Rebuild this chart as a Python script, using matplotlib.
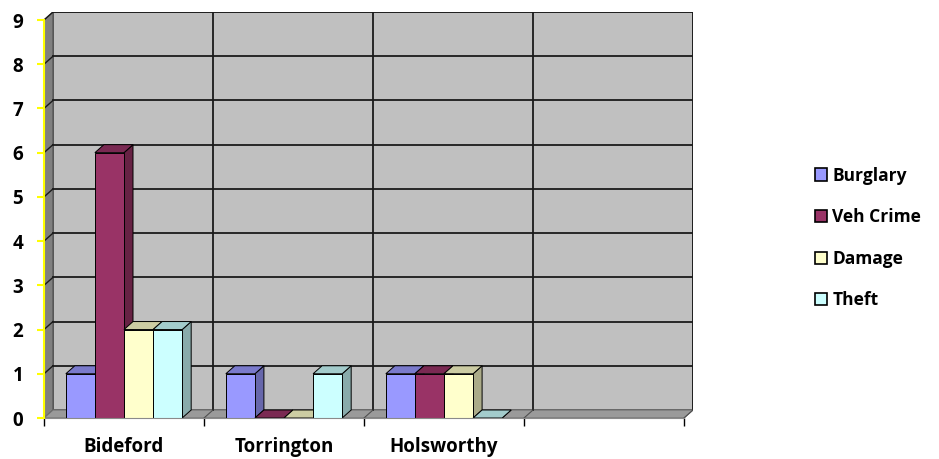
import numpy as np
import matplotlib.pyplot as plt
from matplotlib.patches import Polygon, Rectangle, Patch
from matplotlib.colors import to_rgb

# data
categories = ["Bideford", "Torrington", "Holsworthy", ""]
series = ["Burglary", "Veh Crime", "Damage", "Theft"]
burglary = [1, 1, 1, np.nan]
veh_crime = [6, 0, 1, np.nan]
damage = [2, 0, 1, np.nan]
theft = [2, 1, 0, np.nan]
values = [burglary, veh_crime, damage, theft]
colors = ["#9999FF", "#993366", "#FFFFCC", "#CCFFFF"]

plt.rcParams['font.family'] = ['Open Sans', 'DejaVu Sans']

W, H = 939, 459
fig = plt.figure(figsize=(W / 100, H / 100), dpi=100)

# depth offset of the 3d look, in data units
dx = 9 / 160
dy = 8 / 44.2
n_cat = len(categories)
ymax = 9

ax = fig.add_axes([44 / W, 41 / H, 649 / W, 406 / H])
ax.set_xlim(0, n_cat + dx)
ax.set_ylim(0, ymax + dy)

# walls and floor
ax.add_patch(Rectangle((dx, dy), n_cat, ymax, facecolor="#C0C0C0",
                       edgecolor="#505050", lw=1.2, zorder=0))
ax.add_patch(Polygon([(0, 0), (dx, dy), (dx, ymax + dy), (0, ymax)],
                     closed=True, facecolor="#808080", edgecolor="#505050",
                     lw=0.8, zorder=0))
ax.add_patch(Polygon([(0, 0), (n_cat, 0), (n_cat + dx, dy), (dx, dy)],
                     closed=True, facecolor="#9A9A9A", edgecolor="#707070",
                     lw=0.8, zorder=0))

# gridlines
for k in range(1, ymax + 1):
    ax.plot([dx, n_cat + dx], [k + dy, k + dy], color="#1a1a1a", lw=1.3, zorder=1)
    ax.plot([0, dx], [k, k + dy], color="#1a1a1a", lw=1.0, zorder=1)
for i in range(1, n_cat + 1):
    ax.plot([i + dx, i + dx], [dy, ymax + dy], color="#1a1a1a", lw=1.3, zorder=1)
    ax.plot([i, i + dx], [0, dy], color="#505050", lw=0.8, zorder=1)


def shade(c, f):
    r, g, b = to_rgb(c)
    return (r * f, g * f, b * f)


# bars
w = 1 / (len(series) + 1.5)
for i in range(n_cat):
    for j in range(len(series)):
        v = values[j][i]
        if np.isnan(v):
            continue
        x0 = i + 0.75 * w + j * w
        c = colors[j]
        z = 2 + j * 0.1
        ax.add_patch(Polygon([(x0 + w, 0), (x0 + w + dx, dy), (x0 + w + dx, v + dy), (x0 + w, v)],
                             closed=True, facecolor=shade(c, 0.67), edgecolor="black",
                             lw=0.7, zorder=z))
        ax.add_patch(Polygon([(x0, v), (x0 + w, v), (x0 + w + dx, v + dy), (x0 + dx, v + dy)],
                             closed=True, facecolor=shade(c, 0.8), edgecolor="black",
                             lw=0.7, zorder=z))
        if v > 0:
            ax.add_patch(Rectangle((x0, 0), w, v, facecolor=c, edgecolor="black",
                                   lw=0.7, zorder=z + 0.01))

# axes
for s in ["top", "right"]:
    ax.spines[s].set_visible(False)
ax.spines["left"].set_color("#FFFF00")
ax.spines["left"].set_linewidth(1.5)
ax.spines["left"].set_bounds(0, ymax)
ax.spines["left"].set_zorder(5)
ax.spines["bottom"].set_color("#8a8a8a")
ax.spines["bottom"].set_bounds(0, n_cat)

ax.set_yticks(range(0, ymax + 1))
ax.set_yticklabels([str(k) for k in range(0, ymax + 1)], fontsize=13.5, fontweight="bold")
ax.tick_params(axis="y", colors="#FFFF00", labelcolor="black", length=5, width=1.5, pad=10)

ax.set_xticks(np.arange(n_cat) + 0.5)
ax.set_xticklabels(categories, fontsize=13.5, fontweight="bold")
ax.set_xticks(range(0, n_cat + 1), minor=True)
ax.tick_params(axis="x", which="major", length=0, pad=14)
ax.tick_params(axis="x", which="minor", length=6, width=1, color="black")

handles = [Patch(facecolor=c, edgecolor="black", lw=1.2) for c in colors]
fig.legend(handles, series, loc="center left", bbox_to_anchor=(815 / W, 1 - 238 / H),
           frameon=False, prop={"weight": "bold", "size": 12.5}, borderpad=0,
           borderaxespad=0, handlelength=0.7, handleheight=0.7, handletextpad=0.3,
           labelspacing=1.36)

fig.savefig("out.png", dpi=100)
